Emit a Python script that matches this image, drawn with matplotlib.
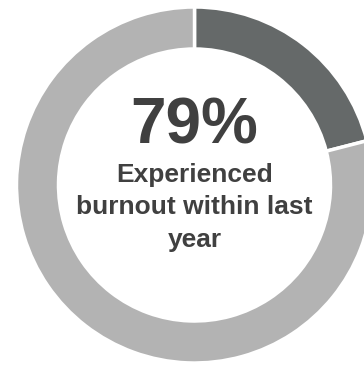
import matplotlib
matplotlib.use("Agg")
from matplotlib import pyplot as plt

plt.rcParams['font.family'] = ['Liberation Sans', 'DejaVu Sans']

# share of respondents, starting at 12 o'clock and going clockwise
labels = ['Not experienced', 'Experienced burnout']
shares = [21, 79]
colors = ['#656969', '#b3b3b3']
headline = '79%'
caption = ['Experienced', 'burnout within last', 'year']

W, H = 364, 365
fig = plt.figure(figsize=(W / 100, H / 100), dpi=100)
ax = fig.add_axes([0, 0, 1, 1])

cx, cy = 194.5, H - 185
R = 178
ring = 42

ax.pie(shares, colors=colors, startangle=90, counterclock=False,
       center=(cx, cy), radius=R, frame=True,
       wedgeprops=dict(width=ring, edgecolor='white', linewidth=2.5))
ax.set_xlim(0, W)
ax.set_ylim(0, H)
ax.set_aspect('equal')
ax.axis('off')

ax.text(cx, H - 144, headline, ha='center', va='baseline',
        fontsize=46, fontweight='bold', color='#404040')
# caption lines, one baseline each
for i, line in enumerate(caption):
    ax.text(cx, H - 182 - 32.5 * i, line, ha='center', va='baseline',
            fontsize=19, fontweight='bold', color='#404040')

fig.savefig('out.png', dpi=100)
